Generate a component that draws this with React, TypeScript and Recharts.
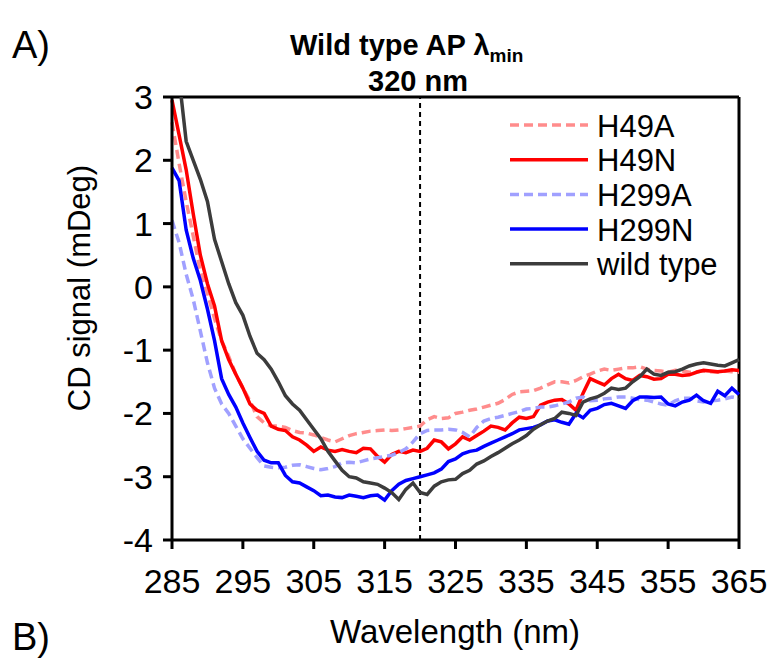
import React from "react";
import { LineChart, Line, XAxis, YAxis, ReferenceLine } from "recharts";

const wavelengths = [
  285, 286, 287, 288, 289, 290, 291, 292, 293, 294, 295, 296, 297, 298, 299, 300, 301, 302, 303, 304,
  305, 306, 307, 308, 309, 310, 311, 312, 313, 314, 315, 316, 317, 318, 319, 320, 321, 322, 323, 324,
  325, 326, 327, 328, 329, 330, 331, 332, 333, 334, 335, 336, 337, 338, 339, 340, 341, 342, 343, 344,
  345, 346, 347, 348, 349, 350, 351, 352, 353, 354, 355, 356, 357, 358, 359, 360, 361, 362, 363, 364, 365,
];

const h49a = [
  2.6, 1.95, 1.35, 0.8, 0.25, -0.1, -0.5, -0.85, -1.1, -1.38, -1.6, -1.8, -2.05, -2.15, -2.2, -2.2, -2.22, -2.27, -2.3, -2.31,
  -2.34, -2.38, -2.42, -2.45, -2.4, -2.35, -2.32, -2.3, -2.28, -2.27, -2.26, -2.27, -2.26, -2.24, -2.22, -2.2, -2.1, -2.05, -2.08, -2.07,
  -2.0, -1.98, -1.95, -1.93, -1.9, -1.87, -1.84, -1.78, -1.7, -1.66, -1.65, -1.64, -1.6, -1.55, -1.5, -1.5, -1.52, -1.48, -1.42, -1.38,
  -1.33, -1.3, -1.32, -1.3, -1.28, -1.28, -1.26, -1.3, -1.32, -1.33, -1.35, -1.32, -1.33, -1.35, -1.34, -1.33, -1.34, -1.35, -1.33, -1.34, -1.35,
];

const h49n = [
  2.95, 2.4, 1.85, 1.15, 0.5, 0.05, -0.3, -0.85, -1.15, -1.38, -1.6, -1.85, -1.95, -2.0, -2.2, -2.25, -2.27, -2.37, -2.42, -2.5,
  -2.6, -2.53, -2.58, -2.6, -2.57, -2.6, -2.62, -2.55, -2.56, -2.68, -2.77, -2.65, -2.6, -2.62, -2.58, -2.6, -2.55, -2.42, -2.45, -2.56,
  -2.48, -2.37, -2.42, -2.35, -2.28, -2.2, -2.22, -2.26, -2.15, -2.06, -2.08, -2.05, -1.87, -1.82, -1.79, -1.78, -1.85, -1.95, -1.68, -1.45,
  -1.5, -1.55, -1.45, -1.38, -1.45, -1.48, -1.4, -1.42, -1.46, -1.45, -1.38, -1.38, -1.4, -1.39, -1.35, -1.32, -1.33, -1.34, -1.33, -1.31, -1.32,
];

const h299a = [
  1.05, 0.7, 0.2, -0.2, -0.7, -1.2, -1.6, -1.85, -2.0, -2.2, -2.4, -2.55, -2.7, -2.83, -2.85, -2.86, -2.85, -2.82, -2.81, -2.84,
  -2.87, -2.89, -2.87, -2.84, -2.78, -2.77, -2.78, -2.75, -2.72, -2.7, -2.68, -2.66, -2.62, -2.56, -2.45, -2.32, -2.27, -2.26, -2.26, -2.25,
  -2.26, -2.3, -2.37, -2.22, -2.12, -2.08, -2.06, -2.03, -2.0, -1.97, -1.93, -1.92, -1.9, -1.9, -1.88, -1.85, -1.82, -1.76, -1.74, -1.8,
  -1.79, -1.77, -1.76, -1.74, -1.74, -1.76, -1.78, -1.79, -1.82, -1.85, -1.87, -1.8, -1.76, -1.76, -1.8, -1.82, -1.8, -1.79, -1.77, -1.74, -1.76,
];

const h299n = [
  1.88, 1.68, 0.9, 0.45, 0.1, -0.35, -0.85, -1.45, -1.7, -1.9, -2.15, -2.38, -2.6, -2.74, -2.78, -2.78, -2.98, -3.08, -3.1, -3.16,
  -3.22, -3.3, -3.29, -3.32, -3.33, -3.29, -3.31, -3.33, -3.3, -3.29, -3.37, -3.22, -3.12, -3.06, -3.03, -3.0, -2.97, -2.94, -2.88, -2.76,
  -2.72, -2.64, -2.6, -2.58, -2.52, -2.47, -2.42, -2.37, -2.32, -2.26, -2.24, -2.22, -2.18, -2.12, -2.1, -2.14, -2.17, -2.0, -2.07, -1.95,
  -1.92, -1.86, -1.84, -1.88, -1.92, -1.8, -1.74, -1.74, -1.75, -1.74, -1.85, -1.88, -1.82, -1.79, -1.71, -1.8, -1.84, -1.65, -1.72, -1.6, -1.7,
];

const wildType = [
  4.6, 3.3, 2.3, 2.0, 1.7, 1.35, 0.75, 0.4, 0.05, -0.25, -0.45, -0.78, -1.05, -1.15, -1.3, -1.5, -1.72, -1.85, -1.95, -2.1,
  -2.25, -2.4, -2.6, -2.75, -2.9, -3.0, -3.02, -3.08, -3.1, -3.12, -3.18, -3.25, -3.36, -3.2, -3.1, -3.25, -3.28, -3.15, -3.08, -3.05,
  -3.04, -2.95, -2.9, -2.8, -2.75, -2.68, -2.62, -2.55, -2.48, -2.42, -2.35, -2.25, -2.18, -2.12, -2.08, -1.98, -2.0, -2.03, -1.82, -1.77,
  -1.74, -1.68, -1.6, -1.62, -1.6, -1.5, -1.42, -1.3, -1.38, -1.4, -1.35, -1.34, -1.3, -1.25, -1.22, -1.2, -1.22, -1.24, -1.25, -1.2, -1.15,
];

const xTicks = [285, 295, 305, 315, 325, 335, 345, 355, 365];
const yTicks = [-4, -3, -2, -1, 0, 1, 2, 3];

const seriesNames = ["H49A", "H49N", "H299A", "H299N", "wild type"];
const seriesKeys = ["h49a", "h49n", "h299a", "h299n", "wt"];
const seriesColors = ["#ff8c8c", "#ff0000", "#a0a0ff", "#0000ff", "#3c3c3c"];
const seriesDash = ["9 5", undefined, "9 5", undefined, undefined];

const data = wavelengths.map((w, i) => ({
  w,
  h49a: h49a[i],
  h49n: h49n[i],
  h299a: h299a[i],
  h299n: h299n[i],
  wt: wildType[i],
}));

const FONT = "'Liberation Sans', Arial, Helvetica, sans-serif";

export default function App() {
  return (
    <div style={{ position: "absolute", left: 0, top: 0, width: 771, height: 664, background: "#fff" }}>
      <LineChart
        width={771}
        height={664}
        data={data}
        margin={{ top: 97, right: 32, bottom: 64, left: 100 }}
      >
        <XAxis
          dataKey="w"
          type="number"
          domain={[285, 365]}
          ticks={xTicks}
          interval={0}
          axisLine={{ stroke: "#000", strokeWidth: 3 }}
          tickLine={{ stroke: "#000", strokeWidth: 3 }}
          tickSize={9}
          tickMargin={20}
          tick={{ fill: "#000", fontSize: 34, fontFamily: FONT }}
          height={60}
        />
        <YAxis
          type="number"
          domain={[-4, 3]}
          ticks={yTicks}
          interval={0}
          allowDataOverflow
          axisLine={{ stroke: "#000", strokeWidth: 3 }}
          tickLine={{ stroke: "#000", strokeWidth: 3 }}
          tickSize={9}
          tickMargin={10}
          tick={{ fill: "#000", fontSize: 34, fontFamily: FONT }}
          width={72}
        />
        <ReferenceLine y={3} stroke="#000" strokeWidth={3} />
        <ReferenceLine x={365} stroke="#000" strokeWidth={3} />
        <ReferenceLine x={320} stroke="#000" strokeWidth={2} strokeDasharray="5 4" />
        {seriesKeys.map((k, i) => (
          <Line
            key={k}
            dataKey={k}
            name={seriesNames[i]}
            stroke={seriesColors[i]}
            strokeWidth={3.5}
            strokeDasharray={seriesDash[i]}
            dot={false}
            activeDot={false}
            type="linear"
            isAnimationActive={false}
          />
        ))}
      </LineChart>
      <svg
        width={771}
        height={664}
        style={{ position: "absolute", left: 0, top: 0, pointerEvents: "none" }}
      >
        {seriesNames.map((n, i) => {
          const cy = 125 + i * 34.7;
          return (
            <g key={n}>
              <line
                x1={510}
                x2={588}
                y1={cy}
                y2={cy}
                stroke={seriesColors[i]}
                strokeWidth={3.5}
                strokeDasharray={seriesDash[i]}
              />
              <text x={597} y={cy + 11.5} fontSize={31} fontFamily={FONT} fill="#000">
                {n}
              </text>
            </g>
          );
        })}
        <text x={12} y={58} fontSize={38} fontFamily={FONT} fill="#000">A)</text>
        <text x={12} y={650} fontSize={38} fontFamily={FONT} fill="#000">B)</text>
        <text x={290} y={55} fontSize={29} fontWeight="bold" fontFamily={FONT} fill="#000">
          Wild type AP λ
          <tspan fontSize={19} dy={7}>min</tspan>
        </text>
        <text x={418} y={91} fontSize={29} fontWeight="bold" fontFamily={FONT} fill="#000" textAnchor="middle">
          320 nm
        </text>
        <text
          x={0}
          y={0}
          fontSize={31}
          fontFamily={FONT}
          fill="#000"
          textAnchor="middle"
          transform="translate(90,288) rotate(-90)"
        >
          CD signal (mDeg)
        </text>
        <text x={455} y={643} fontSize={33} fontFamily={FONT} fill="#000" textAnchor="middle">
          Wavelength (nm)
        </text>
      </svg>
    </div>
  );
}
